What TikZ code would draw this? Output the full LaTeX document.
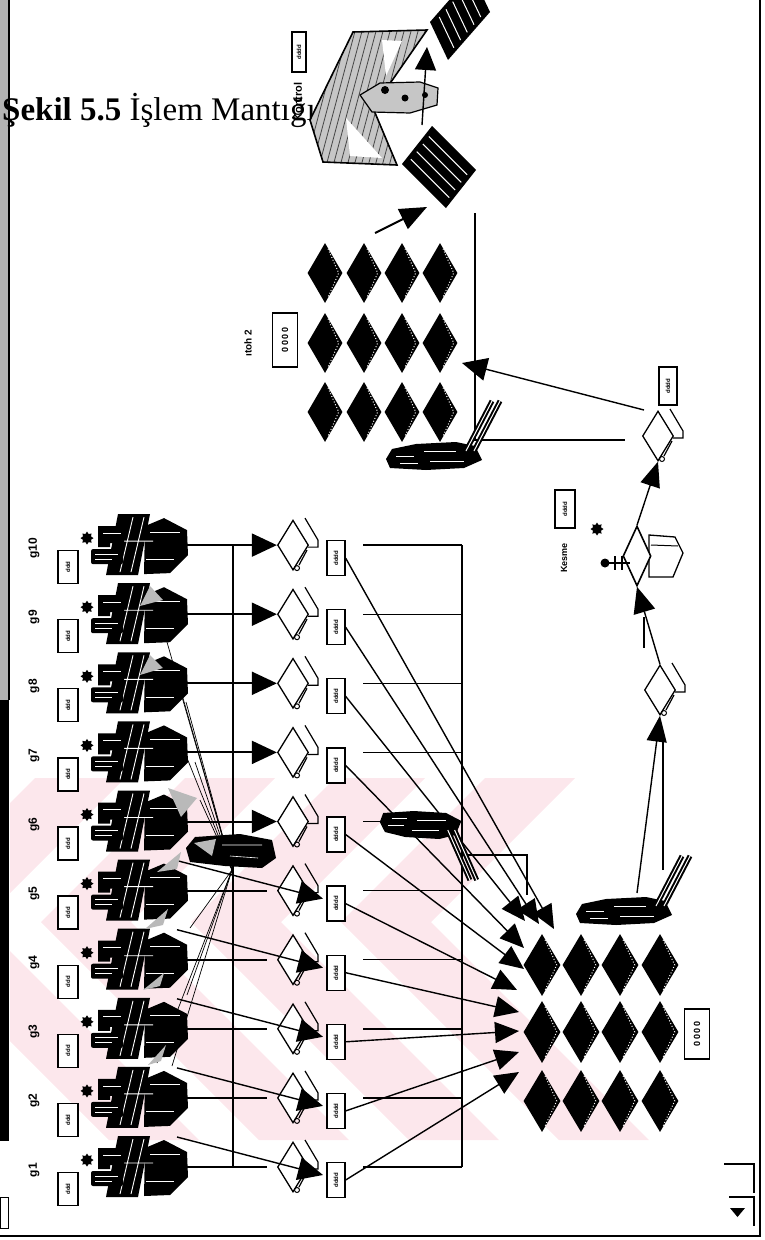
\documentclass[tikz,border=0pt]{standalone}
\usepackage{fontspec}
\setmainfont{Liberation Serif}
\newfontfamily\tagfont{Liberation Sans}
\usetikzlibrary{arrows.meta,shapes.geometric,calc}
\definecolor{wmpink}{RGB}{252,231,236}
\definecolor{hatch}{RGB}{70,70,70}
\tikzset{
  wire/.style={line width=1.4pt},
  fanwire/.style={line width=0.7pt},
  heavy/.style={line width=2pt},
  frame/.style={line width=2.4pt},
  bigtip/.style={-{Triangle[length=25pt,width=23pt]}},
  gridtip/.style={-{Triangle[length=24pt,width=21pt]}},
  router/.style={diamond,draw,line width=1.3pt,fill=white,minimum width=31pt,minimum height=50pt,inner sep=0pt},
  tagbox/.style={draw,line width=1.3pt,fill=white,rotate=90,inner sep=0.5pt,font=\tagfont\bfseries\fontsize{6}{6}\selectfont},
  glabel/.style={rotate=90,inner sep=0pt,font=\tagfont\bfseries\fontsize{12}{12}\selectfont},
  stock/.style={diamond,fill=black,inner sep=0pt,minimum width=37pt,minimum height=62pt},
  stocksmall/.style={diamond,fill=black,inner sep=0pt,minimum width=35pt,minimum height=60pt},
  gear/.style={star,star points=8,star point ratio=1.5,fill=black,inner sep=0pt,minimum size=13pt},
  machine/.pic={
    % isometric machine block
    \fill (145,-19) -- (164,-27) -- (187,-15) -- (188,10) -- (170,28) -- (144,29) -- cycle;
    % slanted frame in front of the block
    \fill (118,-31) -- (150,-31) -- (138,30) -- (106,30) -- cycle;
    \draw[white,line width=0.9pt] (133,-28) -- (120,27) (144,-28) -- (131,27) (122,-4) -- (153,-4);
    \draw[white,line width=0.9pt] (150,-13) -- (180,-13) (146,14) -- (174,14);
    % tool holder on the left
    \fill (98,-19) -- (124,-19) -- (124,-2) -- (110,-2) -- (110,2) -- (98,2) -- cycle;
    \fill[rounded corners=2pt] (91,4) rectangle (123,19);
    \draw[white,line width=0.8pt] (95,9) -- (118,9) (95,14) -- (112,14) (103,-12) -- (121,-12);
  },
  rhandle/.pic={
    \draw[line width=1.2pt] (12,-27) -- (25,-5) -- (25,2) -- (15,2);
    \draw[line width=1.2pt] (14,5) -- (6,20);
    \draw[line width=1pt] (4,23) circle (2.5);
  },
  robot/.pic={
    \fill (-92,4) -- (-86,-6) -- (-62,-11) -- (-22,-13) -- (-3,-9) -- (4,5) -- (-14,13) -- (-52,15) -- (-88,13) -- cycle;
    \draw[white,line width=0.6pt] (-82,1) -- (-64,1) (-54,-4) -- (-22,-4) (-48,6) -- (-14,6) (-78,8) -- (-60,8);
    \foreach \d in {0,8} {
      \draw[line width=5pt] (-12+\d,-4) -- (14+\d,-54);
      \draw[white,line width=1pt] (-12+\d,-4) -- (14+\d,-54);
    }
  }
}
\begin{document}
\begin{tikzpicture}[x=1pt,y=-1pt]
\useasboundingbox (0,0) rectangle (764,1240);

% faint pink watermark: nested chevrons
\begin{scope}
  \clip (10,778) rectangle (760,1140);
  \foreach \v in {431,281,131,-19}
    \fill[wmpink] (\v+144,778) -- (\v,922) -- (\v+218,1140) -- (\v+128,1140) -- (\v-90,922) -- (\v+54,778) -- cycle;
\end{scope}

% page edges
\fill[gray!60] (0,0) rectangle (8,700);
\fill[black] (0,700) rectangle (9,1141);
\draw[line width=1.5pt] (9,0) -- (9,700);
\draw[frame] (760,0) -- (760,1236) -- (0,1236);
\draw[line width=1pt] (0,1197) rectangle (8,1228);
\draw[line width=1.4pt] (724,1164) -- (754,1164) -- (754,1193);
\draw[line width=1.4pt] (729,1197) -- (754,1197) -- (754,1226);
\fill (730,1208) -- (745,1208) -- (737.5,1217) -- cycle;

% title
\node[anchor=base west,inner sep=0pt,font=\fontsize{33}{36}\selectfont] (title) at (2,120) {\textbf{Şekil 5.5} İşlem Mantığı};

% collecting line left of the routers
\coordinate (vt) at (233,545.1);
\coordinate (vb) at (233,1167);
\draw[wire] (vt) -- (vb);

% hub of the feeding robot and its fan of links
\coordinate (hub) at (232,870);
\foreach \px/\py in {163/628,180/690,186/702,183/748,195/762,200/800,190/928,187/995,157/1063,172/1066}
  \draw[fanwire] (hub) -- (\px,\py);

% machine rows
\foreach \i in {1,...,10}{
  \pgfmathsetmacro\y{1167-69.1*(\i-1)}
  \pic at (0,\y) {machine};
  \node[gear] (d\i) at (87,\y-7) {};
  \node[glabel] (g\i) at (34,\y+3) {g\i};
  \node[tagbox,minimum width=33pt,minimum height=20pt] (q\i) at (68,\y+22) {ddd};
  \coordinate (m\i) at (187,\y);
  \node[router] (r\i) at (293,\y) {};
  \pic at (293,\y) {rhandle};
  \node[tagbox,minimum width=35pt,minimum height=18pt] (rb\i) at (336,\y+13) {dddd};
  \coordinate (h\i) at (363,\y);
  \coordinate (k\i) at (462,\y);
  \draw[wire] (h\i) -- (k\i);
  \ifnum\i>5
    \draw[heavy,bigtip] (m\i) -- (r\i.west);
  \else
    \coordinate (e\i) at (267,\y);
    \draw[heavy] (m\i) -- (e\i);
    \coordinate (s\i) at (177,\y-30);
    \coordinate (a\i) at (323,\y+8);
  \fi
}
\draw[wire] (k10) -- (k1);
\foreach \i in {1,...,5} \draw[wire,bigtip] (s\i) -- (a\i);

% grey markers on the machines
\foreach \ax/\ay/\bx/\by/\cx/\cy in {168/788/197/798/181/817, 157/872/181/852/177/869, 145/929/168/909/163/925, 143/990/164/973/160/986, 148/1065/166/1045/161/1061, 140/606/150/586/163/600, 140/675/150/655/163/668}
  \fill[gray!55] (\ax,\ay) -- (\bx,\by) -- (\cx,\cy) -- cycle;

% feeding robot at the hub
\fill (186,848) -- (195,837) -- (240,834) -- (272,840) -- (276,858) -- (262,868) -- (225,866) -- (190,862) -- cycle;
\fill[gray!55] (194,843) -- (216,839) -- (212,856) -- cycle;
\draw[white,line width=0.6pt] (222,845) -- (262,845) (230,856) -- (258,858);

% big stock area
\foreach \c/\x in {1/542,2/581,3/620,4/660}
  \foreach \r/\yy in {1/965,2/1032,3/1101}{
    \node[stock] (S\r\c) at (\x,\yy) {};
    \draw[white,dotted,line width=1pt] ($(S\r\c.north)+(3,6)$) -- ($(S\r\c.east)+(-4,0)$) -- ($(S\r\c.south)+(3,-6)$);
  }
\node[tagbox,minimum width=50pt,minimum height=25pt,font=\tagfont\bfseries\fontsize{9}{9}\selectfont] (stk1) at (697,1034) {0\,0\,0\,0};

% links from router tags into the stock area
\foreach \i/\tx/\ty in {1/519/1072,2/519/1052,3/519/1031,4/519/1012,5/517/990,6/524/969,7/524/948,8/525/921,9/539/924,10/554/929}{
  \coordinate (t\i) at (\tx,\ty);
  \draw[wire,gridtip] (rb\i.south) -- (t\i);
}
\coordinate (c1) at (462,855);
\coordinate (c2) at (527,855);
\coordinate (c3) at (527,895);
\draw[wire] (c1) -- (c2) -- (c3);

% robot in the middle of the links
\pic[yscale=-1,xscale=0.85] at (458,826) {robot};

% robot above the stock area
\pic at (668,910) {robot};

% assembly line on the right
\node[router] (ra) at (660,690) {};
\pic at (660,690) {rhandle};
\coordinate (r3a) at (637,893);
\coordinate (r3b) at (663,870);
\coordinate (r3c) at (663,742);
\draw[wire,-{Triangle[length=26pt,width=20pt]}] (r3a) -- (ra.south);
\draw[wire] (r3b) -- (r3c);

\draw[line width=1.3pt,fill=white] (649,535) -- (675,537) -- (683,553) -- (673,577) -- (649,577) -- cycle;
\draw[line width=1pt] (651,545) -- (678,546);
\node[diamond,draw,line width=1.6pt,fill=white,minimum width=28pt,minimum height=60pt,inner sep=0pt] (st) at (637,556) {};
\fill (605,563) circle (4.5);
\draw[line width=2pt] (609,563) -- (630,563);
\draw[line width=1.2pt] (615,556) -- (615,570) (622,556) -- (622,570);
\node[gear] (dst) at (597,529) {};
\node[tagbox,minimum width=38pt,minimum height=20pt] (stb) at (565,509) {dddd};
\node[glabel,font=\tagfont\bfseries\fontsize{9}{9}\selectfont] (stl) at (564,558) {Kesme};

\draw[wire,-{Triangle[length=26pt,width=22pt]}] (ra.north) -- (st.south);
\coordinate (sl1) at (644,617);
\coordinate (sl2) at (644,648);
\draw[wire] (sl1) -- (sl2);

\node[router] (rbb) at (658,436) {};
\pic at (658,436) {rhandle};
\node[tagbox,minimum width=38pt,minimum height=18pt] (rbl) at (668,386) {dddd};
\draw[wire,-{Triangle[length=25pt,width=20pt]}] (st.north) -- (rbb.south);

% second stock area
\foreach \c/\x in {1/325,2/364,3/402,4/440}
  \foreach \r/\yy in {1/273,2/343,3/412}{
    \node[stocksmall] (T\r\c) at (\x,\yy) {};
    \draw[white,dotted,line width=1pt] ($(T\r\c.north)+(3,6)$) -- ($(T\r\c.east)+(-4,0)$) -- ($(T\r\c.south)+(3,-6)$);
  }
\node[tagbox,minimum width=54pt,minimum height=25pt,font=\tagfont\bfseries\fontsize{9}{9}\selectfont] (stk2) at (285,340) {0\,0\,0\,0};
\node[glabel,font=\tagfont\bfseries\fontsize{10}{10}\selectfont] (stk2l) at (248,343) {ıtoh 2};

\coordinate (v2t) at (475,213);
\coordinate (v2b) at (475,440);
\coordinate (v2r) at (625,440);
\draw[wire] (v2t) -- (v2b) -- (v2r);
\coordinate (rbo) at (644,410);
\coordinate (tin) at (462,363);
\draw[wire,bigtip] (rbo) -- (tin);
\pic at (478,455) {robot};

% control station
\coordinate (so) at (375,233);
\coordinate (si) at (427,207);
\draw[heavy,-{Triangle[length=27pt,width=22pt]}] (so) -- (si);

\begin{scope}
  \clip (310,120) -- (353,32) -- (427,30) -- (373,108) -- (397,165) -- (323,162) -- cycle;
  \fill[gray!45] (300,20) rectangle (440,170);
  \foreach \k in {0,...,26} \draw[hatch,line width=0.8pt] (290+\k*7,170) -- (330+\k*7,20);
\end{scope}
\draw[line width=1.6pt] (310,120) -- (353,32) -- (427,30) -- (373,108) -- (397,165) -- (323,162) -- cycle;
\fill[white] (382,40) -- (402,41) -- (386,76) -- cycle;
\fill[white] (346,118) -- (382,158) -- (350,156) -- cycle;
\filldraw[fill=gray!45,line width=1.2pt] (360,95) -- (380,83) -- (420,82) -- (438,88) -- (437,105) -- (410,113) -- (372,112) -- cycle;
\fill (385,90) circle (4) (405,98) circle (3.5) (425,95) circle (3);

\coordinate (pa) at (430,22);
\coordinate (pb) at (448,60);
\coordinate (pc) at (490,12);
\coordinate (pd) at (472,-26);
\fill (pa) -- (pb) -- (pc) -- (pd) -- cycle;
\foreach \t in {0.18,0.34,0.5,0.66,0.82}
  \draw[white,line width=1pt,shorten <=4pt,shorten >=4pt] ($(pa)!\t!(pd)$) -- ($(pb)!\t!(pc)$);

\coordinate (qt) at (432,126);
\coordinate (qr) at (476,170);
\coordinate (qb) at (446,208);
\coordinate (ql) at (402,164);
\fill (qt) -- (qr) -- (qb) -- (ql) -- cycle;
\foreach \t in {0.2,0.4,0.6,0.8}
  \draw[white,line width=1pt,shorten <=4pt,shorten >=4pt] ($(qt)!\t!(ql)$) -- ($(qr)!\t!(qb)$);

\coordinate (ca) at (422,125);
\coordinate (cb) at (427,47);
\draw[wire,-{Triangle[length=23pt,width=21pt]}] (ca) -- (cb);

\node[glabel,font=\tagfont\bfseries\fontsize{11}{11}\selectfont] (ktl) at (298,102) {Kontrol};
\node[tagbox,minimum width=40pt,minimum height=14pt] (ktb) at (299,52) {dddd};
\end{tikzpicture}
\end{document}
